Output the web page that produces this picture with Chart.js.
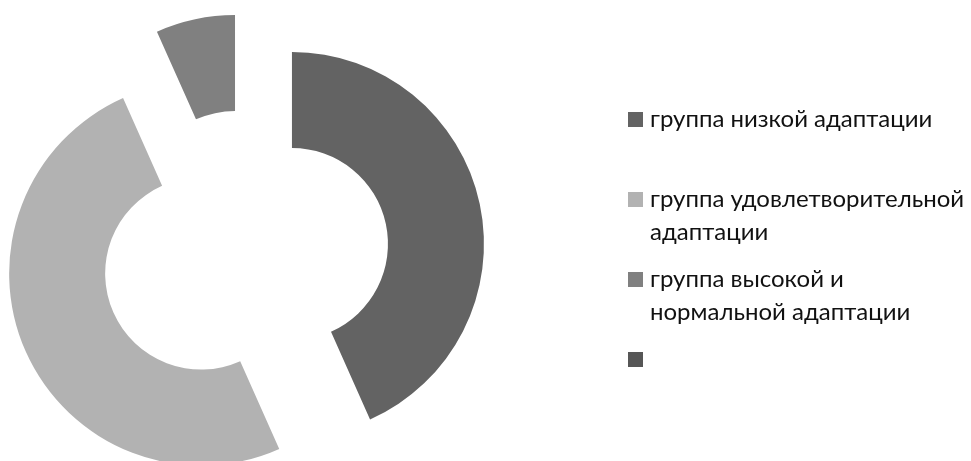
<!DOCTYPE html>
<html>
<head>
<meta charset="utf-8">
<script src="https://cdn.jsdelivr.net/npm/chart.js@4"></script>
<style>
  html, body { margin: 0; padding: 0; background: #ffffff; }
  #wrap { position: relative; width: 971px; height: 461px; overflow: hidden; }
  #chart { position: absolute; left: 0; top: 0; }
  #legend { position: absolute; left: 628px; top: 0; width: 343px; height: 461px;
            font-family: Lato, "Open Sans", sans-serif; font-size: 24px; color: #111111; }
  .item { position: absolute; left: 0; }
  .box { position: absolute; left: 0; top: 0; width: 15px; height: 15px; }
  .txt { position: absolute; left: 22px; top: -11px; line-height: 33px; white-space: nowrap; }
</style>
</head>
<body>
<div id="wrap">
  <canvas id="chart" width="971" height="461"></canvas>
  <div id="legend"></div>
</div>
<script>
// Adaptation groups (multi-line labels as they wrap in the legend)
const categories = [
  ['группа низкой адаптации'],
  ['группа удовлетворительной', 'адаптации'],
  ['группа высокой и', 'нормальной адаптации'],
  ['']
];
// Number of people in each group
const groupCounts = [13, 15, 2, 0];
const sliceColors = ['#636363', '#b2b2b2', '#808080', '#565656'];

// Pulls every slice away from the centre along its bisector (exploded doughnut)
const explodePlugin = {
  id: 'explode',
  afterDatasetUpdate(chart, args) {
    const meta = chart.getDatasetMeta(args.index);
    const controller = meta.controller;
    const dist = controller.outerRadius * 0.25;
    meta.data.forEach(arc => {
      const mid = (arc.startAngle + arc.endAngle) / 2;
      arc.x = arc.x + Math.cos(mid) * dist;
      arc.y = arc.y + Math.sin(mid) * dist;
    });
  }
};

const chart = new Chart(document.getElementById('chart'), {
  type: 'doughnut',
  data: {
    labels: categories,
    datasets: [{
      data: groupCounts,
      backgroundColor: sliceColors,
      borderWidth: 0,
      clip: false
    }]
  },
  options: {
    responsive: false,
    animation: false,
    devicePixelRatio: 1,
    cutout: '50%',
    layout: { padding: { left: 53, top: 62, right: 534, bottom: 15 } },
    plugins: { legend: { display: false }, tooltip: { enabled: false } },
    events: []
  },
  plugins: [explodePlugin]
});

// Legend built from the same categories and colours
const legend = document.getElementById('legend');
categories.forEach((lines, i) => {
  const item = document.createElement('div');
  item.className = 'item';
  item.style.top = (112 + i * 80) + 'px';
  const box = document.createElement('div');
  box.className = 'box';
  box.style.background = sliceColors[i];
  const txt = document.createElement('div');
  txt.className = 'txt';
  lines.forEach((line, j) => {
    if (j) txt.appendChild(document.createElement('br'));
    txt.appendChild(document.createTextNode(line));
  });
  item.appendChild(box);
  item.appendChild(txt);
  legend.appendChild(item);
});
</script>
</body>
</html>
